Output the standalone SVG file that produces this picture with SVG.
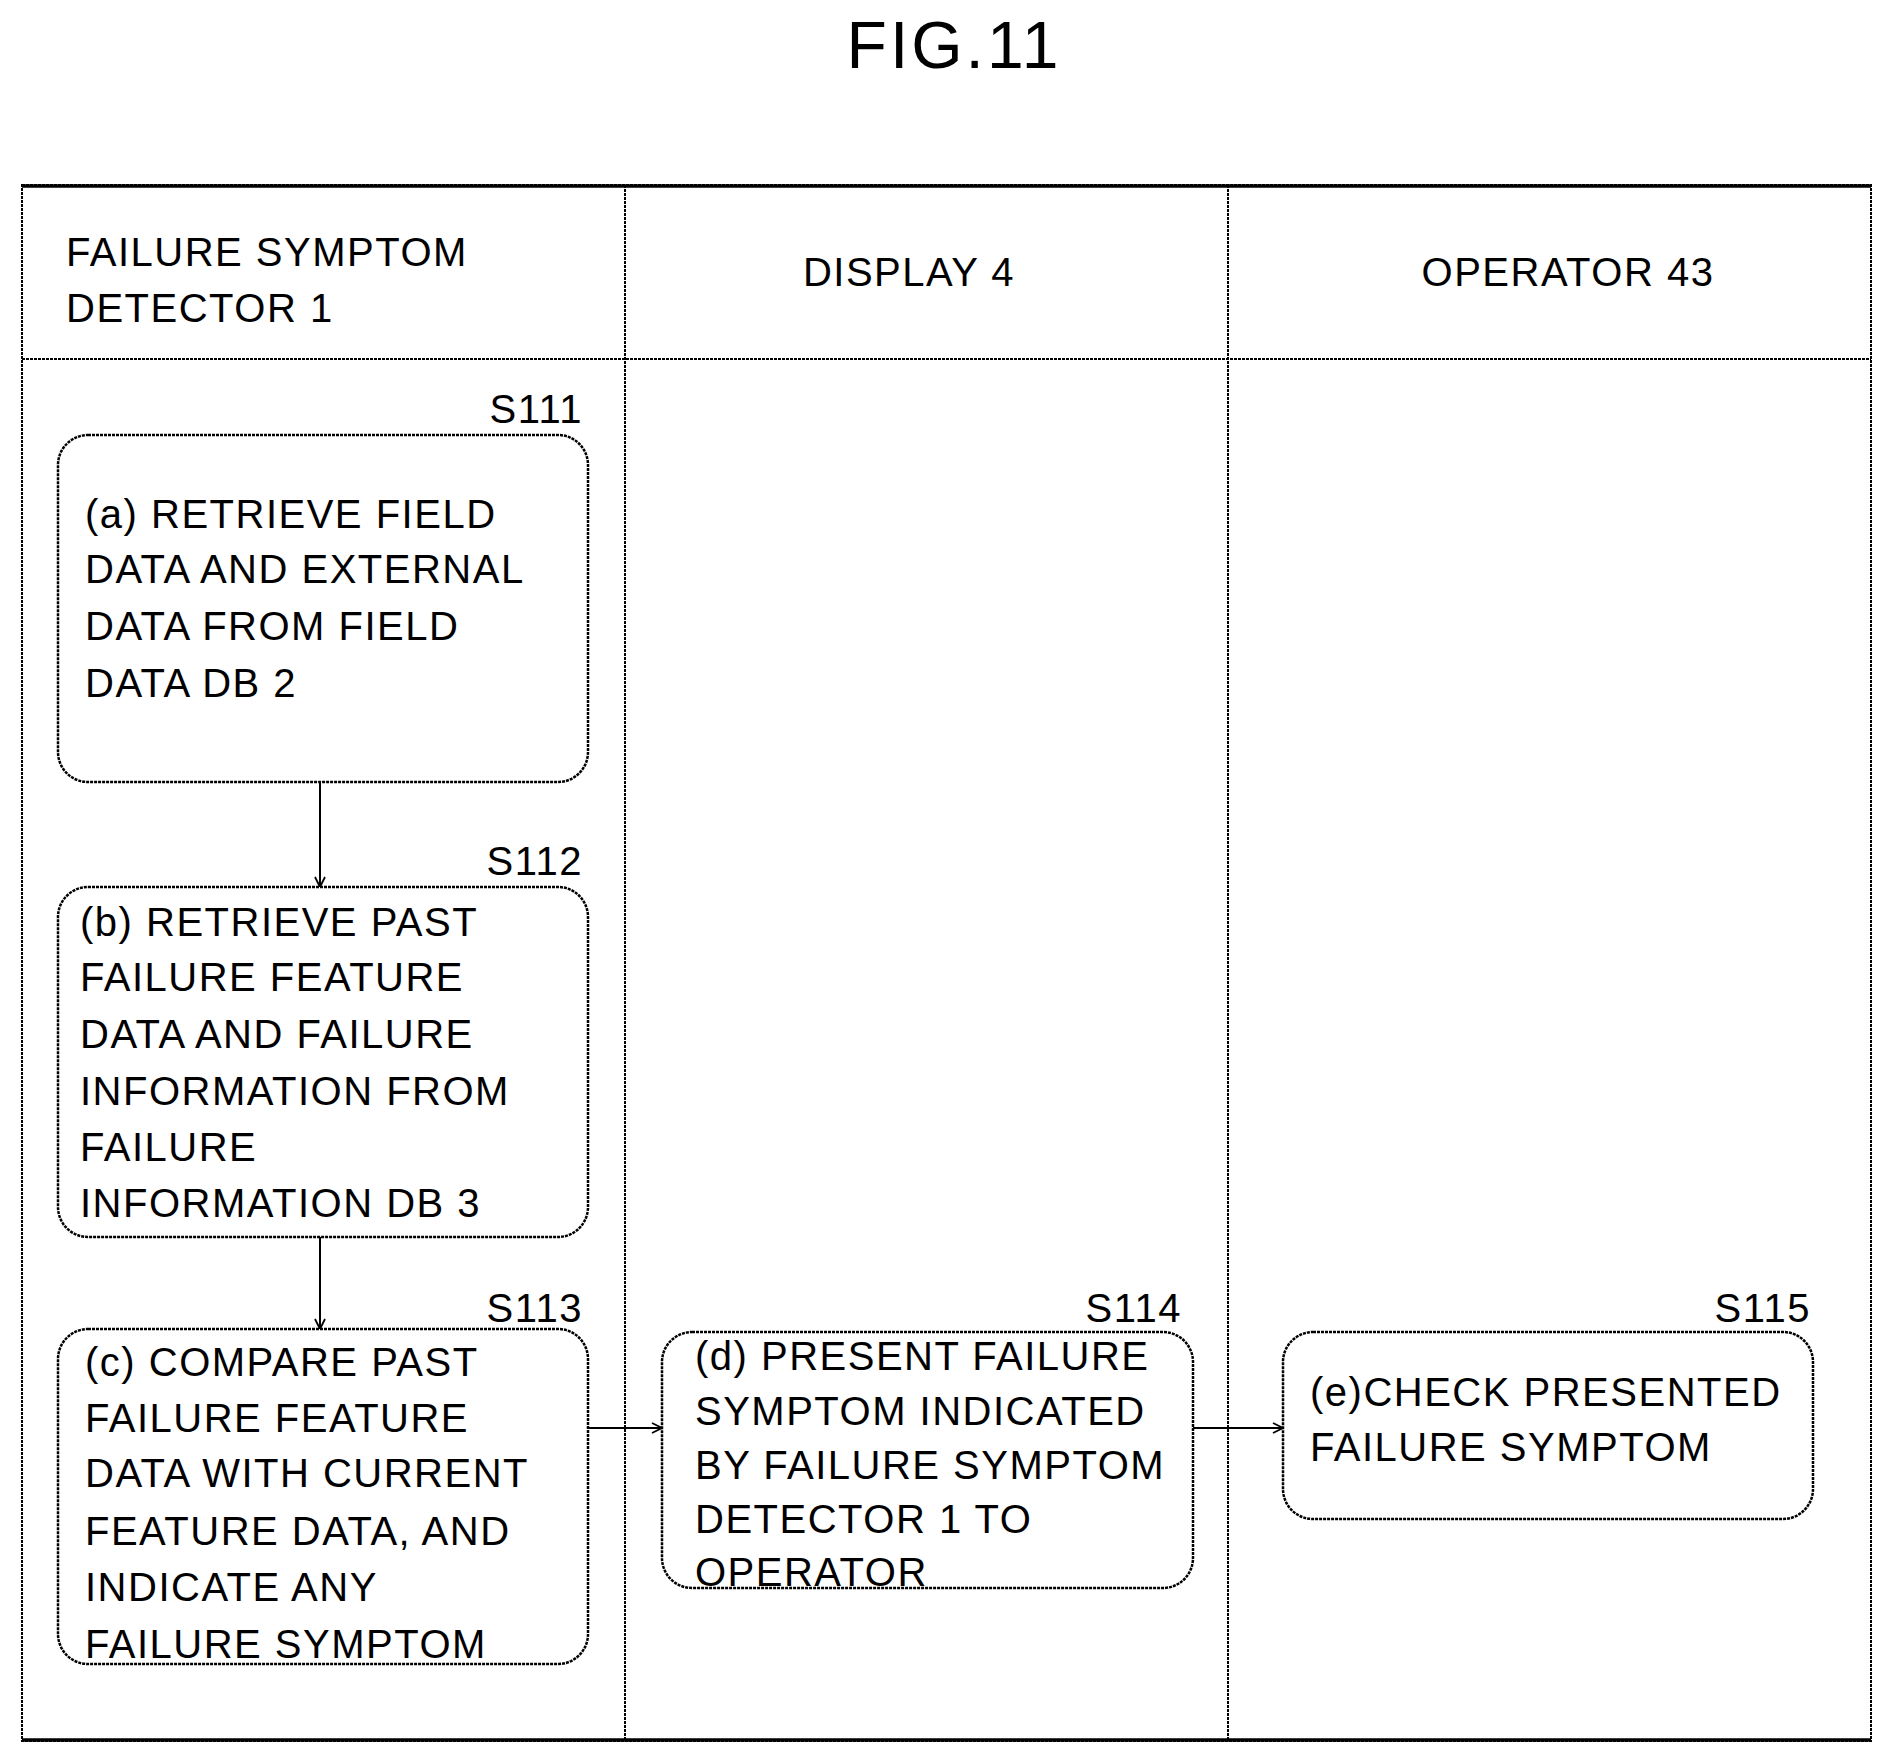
<svg xmlns="http://www.w3.org/2000/svg" width="1893" height="1763" viewBox="0 0 1893 1763">
<style>
text{font-family:"Liberation Sans",Arial,sans-serif;fill:#000;font-size:40px;letter-spacing:1.5px}
.title{font-size:66px;letter-spacing:3px}
.box{fill:#fff;stroke:#000;stroke-width:2.5;stroke-dasharray:3 1}
.lane{stroke:#000;stroke-width:2;stroke-dasharray:3 1;fill:none}
.conn{stroke:#000;stroke-width:2;fill:none}
.lbl{text-anchor:end}
</style>
<defs><marker id="ah" markerWidth="12" markerHeight="12" refX="11" refY="6" orient="auto" markerUnits="userSpaceOnUse"><path d="M1,1 L11,6 L1,11" fill="none" stroke="#000" stroke-width="1.8"/></marker></defs>
<rect width="1893" height="1763" fill="#fff"/>
<text x="954" y="68" class="title" text-anchor="middle">FIG.11</text>
<g id="lanes">
<rect x="22" y="185" width="1849" height="1556" class="lane" stroke-width="3"/>
<line x1="22" y1="186" x2="1871" y2="186" stroke="#000" stroke-width="3.5"/>
<line x1="22" y1="1740" x2="1871" y2="1740" stroke="#000" stroke-width="3.5"/>
<line x1="625" y1="185" x2="625" y2="1741" class="lane"/>
<line x1="1228" y1="185" x2="1228" y2="1741" class="lane"/>
<line x1="22" y1="359" x2="1871" y2="359" class="lane"/>
<text x="66" y="266">FAILURE SYMPTOM</text>
<text x="66" y="322">DETECTOR 1</text>
<text x="909" y="286" text-anchor="middle">DISPLAY 4</text>
<text x="1568" y="286" text-anchor="middle">OPERATOR 43</text>
</g>
<g id="connectors">
<line x1="320" y1="782" x2="320" y2="887" class="conn" marker-end="url(#ah)"/>
<line x1="320" y1="1237" x2="320" y2="1329" class="conn" marker-end="url(#ah)"/>
<line x1="588" y1="1428" x2="662" y2="1428" class="conn" marker-end="url(#ah)"/>
<line x1="1193" y1="1428" x2="1283" y2="1428" class="conn" marker-end="url(#ah)"/>
</g>
<g id="S111">
<text x="583" y="423" class="lbl">S111</text>
<rect x="58" y="435" width="530" height="347" rx="30" class="box"/>
<text x="85" y="528">(a) RETRIEVE FIELD</text>
<text x="85" y="583">DATA AND EXTERNAL</text>
<text x="85" y="640">DATA FROM FIELD</text>
<text x="85" y="697">DATA DB 2</text>
</g>
<g id="S112">
<text x="583" y="875" class="lbl">S112</text>
<rect x="58" y="887" width="530" height="350" rx="30" class="box"/>
<text x="80" y="936">(b) RETRIEVE PAST</text>
<text x="80" y="991">FAILURE FEATURE</text>
<text x="80" y="1048">DATA AND FAILURE</text>
<text x="80" y="1105">INFORMATION FROM</text>
<text x="80" y="1161">FAILURE</text>
<text x="80" y="1217">INFORMATION DB 3</text>
</g>
<g id="S113">
<text x="583" y="1322" class="lbl">S113</text>
<rect x="58" y="1329" width="530" height="335" rx="30" class="box"/>
<text x="85" y="1376">(c) COMPARE PAST</text>
<text x="85" y="1432">FAILURE FEATURE</text>
<text x="85" y="1487">DATA WITH CURRENT</text>
<text x="85" y="1545">FEATURE DATA, AND</text>
<text x="85" y="1601">INDICATE ANY</text>
<text x="85" y="1658">FAILURE SYMPTOM</text>
</g>
<g id="S114">
<text x="1182" y="1322" class="lbl">S114</text>
<rect x="662" y="1332" width="531" height="256" rx="30" class="box"/>
<text x="695" y="1370">(d) PRESENT FAILURE</text>
<text x="695" y="1425">SYMPTOM INDICATED</text>
<text x="695" y="1479">BY FAILURE SYMPTOM</text>
<text x="695" y="1533">DETECTOR 1 TO</text>
<text x="695" y="1586">OPERATOR</text>
</g>
<g id="S115">
<text x="1811" y="1322" class="lbl">S115</text>
<rect x="1283" y="1332" width="530" height="187" rx="30" class="box"/>
<text x="1310" y="1406">(e)CHECK PRESENTED</text>
<text x="1310" y="1461">FAILURE SYMPTOM</text>
</g>
</svg>
